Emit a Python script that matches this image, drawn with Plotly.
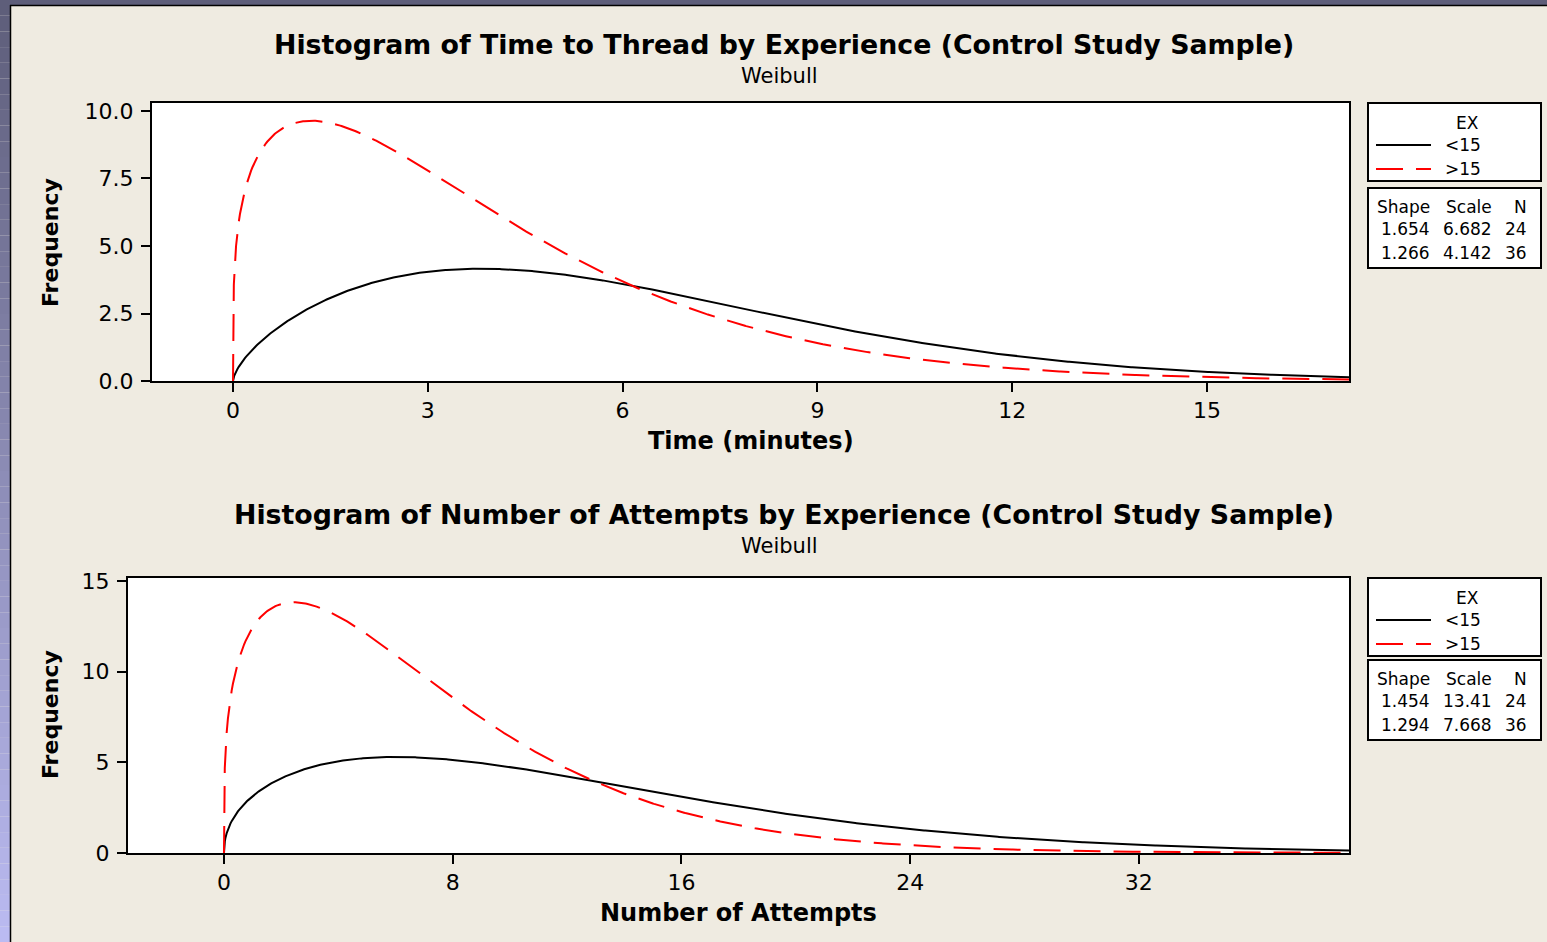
import numpy as np
import plotly.graph_objects as go

# Fitted Weibull parameters per experience group (EX)
groups = ["<15", ">15"]
time_shape = [1.654, 1.266]
time_scale = [6.682, 4.142]
attempt_shape = [1.454, 1.294]
attempt_scale = [13.41, 7.668]
group_n = [24, 36]

# Histogram bin widths used to scale the fitted densities to frequencies
time_bin = 1.5
attempt_bin = 4.0

time_xticks = [0, 3, 6, 9, 12, 15]
time_yticks = [0, 2.5, 5.0, 7.5, 10.0]
attempt_xticks = [0, 8, 16, 24, 32]
attempt_yticks = [0, 5, 10, 15]

W, H = 1547, 942
BG = "#EFEBE1"
FONT = "DejaVu Sans"
line_colors = ["black", "red"]
line_dash = ["solid", "27px,13px"]


def px(x):
    return x / W


def py(y):
    return 1 - y / H


def weibull_freq(x, k, lam, n, bw):
    z = x / lam
    return n * bw * (k / lam) * np.power(z, k - 1) * np.exp(-np.power(z, k))


def note(text, x, y, size, xanchor="center", bold=False, angle=0):
    return dict(text=f"<b>{text}</b>" if bold else text, x=px(x), y=py(y),
                xref="paper", yref="paper", xanchor=xanchor, yanchor="middle",
                showarrow=False, textangle=angle,
                font=dict(family=FONT, size=size, color="black"))


fig = go.Figure()

panels = [
    dict(xa="x", ya="y", box=(152, 1349, 103, 381), xr=(-1.2475, 17.187), yr=(0, 10.296),
         shape=time_shape, scale=time_scale, bw=time_bin,
         xt=time_xticks, yt=time_yticks, yfmt=".1f",
         title="Histogram of Time to Thread by Experience (Control Study Sample)",
         title_y=45, sub_y=76, xlab="Time (minutes)", xlab_y=441, ylab_y=243,
         leg=(103, 181, 188, 268)),
    dict(xa="x2", ya="y2", box=(128, 1349, 578, 853), xr=(-3.357, 39.35), yr=(0, 15.166),
         shape=attempt_shape, scale=attempt_scale, bw=attempt_bin,
         xt=attempt_xticks, yt=attempt_yticks, yfmt="d",
         title="Histogram of Number of Attempts by Experience (Control Study Sample)",
         title_y=514, sub_y=546, xlab="Number of Attempts", xlab_y=913, ylab_y=715,
         leg=(578, 656, 660, 740)),
]

shapes = []
annotations = []

# Window frame: dark top strip and a left strip fading to lavender
shapes.append(dict(type="rect", xref="paper", yref="paper", x0=0, x1=1, y0=py(5), y1=1,
                   fillcolor="#5E5E7A", line_width=0, layer="below"))
nseg = 60
c0 = np.array([0x5E, 0x5E, 0x7A])
c1 = np.array([0xBB, 0xBB, 0xF2])
for i in range(nseg):
    t = i / (nseg - 1)
    c = (c0 + (c1 - c0) * t).astype(int)
    y0 = i * H / nseg
    y1 = (i + 1) * H / nseg
    shapes.append(dict(type="rect", xref="paper", yref="paper", x0=0, x1=px(10),
                       y0=py(y1), y1=py(y0), fillcolor=f"rgb({c[0]},{c[1]},{c[2]})",
                       line_width=0, layer="below"))
shapes.append(dict(type="line", xref="paper", yref="paper", x0=px(10), x1=1, y0=py(5.5), y1=py(5.5),
                   line=dict(color="black", width=1.5)))
shapes.append(dict(type="line", xref="paper", yref="paper", x0=px(10.5), x1=px(10.5), y0=0, y1=py(5),
                   line=dict(color="black", width=1.5)))

layout_axes = {}
for pi, p in enumerate(panels):
    x0, x1, y0, y1 = p["box"]
    xmax = p["xr"][1]
    xs = np.concatenate([np.linspace(0, 0.05, 60)[:-1], np.linspace(0.05, xmax, 900)])
    for gi, g in enumerate(groups):
        ys = weibull_freq(xs, p["shape"][gi], p["scale"][gi], group_n[gi], p["bw"])
        fig.add_trace(go.Scatter(x=xs, y=ys, mode="lines", xaxis=p["xa"], yaxis=p["ya"],
                                 line=dict(color=line_colors[gi], width=2, dash=line_dash[gi]),
                                 name=g, showlegend=False, hoverinfo="skip"))
    ax_common = dict(showline=True, linecolor="black", linewidth=2, mirror=True,
                     ticks="outside", ticklen=9, tickwidth=2, tickcolor="black",
                     showgrid=False, zeroline=False, automargin=False,
                     tickfont=dict(family=FONT, size=22, color="black"))
    xkey = "xaxis" if pi == 0 else "xaxis2"
    ykey = "yaxis" if pi == 0 else "yaxis2"
    layout_axes[xkey] = dict(ax_common, domain=[px(x0), px(x1)], range=list(p["xr"]),
                             tickvals=p["xt"], anchor=p["ya"], ticklabelstandoff=0)
    layout_axes[ykey] = dict(ax_common, domain=[py(y1), py(y0)], range=list(p["yr"]),
                             tickvals=p["yt"], tickformat=p["yfmt"], anchor=p["xa"],
                             ticklabelstandoff=3)

    cx = (x0 + x1) / 2
    annotations.append(note(p["title"], 784, p["title_y"], 26.8, bold=True))
    annotations.append(note("Weibull", 779, p["sub_y"], 21))
    annotations.append(note(p["xlab"], cx, p["xlab_y"], 24, bold=True))
    annotations.append(note("Frequency", 50, p["ylab_y"], 22, bold=True, angle=-90))

    # Legend box and parameter table
    la, lb, ta, tb = p["leg"]
    for (b0, b1) in [(la, lb), (ta, tb)]:
        shapes.append(dict(type="rect", xref="paper", yref="paper", x0=px(1368), x1=px(1541),
                           y0=py(b1), y1=py(b0), line=dict(color="black", width=2),
                           fillcolor="white"))
    annotations.append(note("EX", 1467, la + 20, 17))
    for gi, g in enumerate(groups):
        ly = la + 42 + gi * 24
        shapes.append(dict(type="line", xref="paper", yref="paper", x0=px(1376), x1=px(1431),
                           y0=py(ly), y1=py(ly),
                           line=dict(color=line_colors[gi], width=2, dash=line_dash[gi])))
        annotations.append(note(g.replace("<", "&lt;").replace(">", "&gt;"), 1443, ly, 17,
                                xanchor="left"))
    col_right = [1432, 1494, 1529]
    header = ["Shape", "Scale", "N"]
    for ci, h in enumerate(header):
        annotations.append(note(h, col_right[ci], ta + 19, 17, xanchor="right"))
    for gi in range(len(groups)):
        row = [f"{p['shape'][gi]:.4g}", f"{p['scale'][gi]:.4g}", f"{group_n[gi]}"]
        for ci, v in enumerate(row):
            annotations.append(note(v, col_right[ci], ta + 41 + gi * 24, 17, xanchor="right"))

fig.update_layout(
    width=W, height=H,
    margin=dict(l=0, r=0, t=0, b=0, autoexpand=False),
    paper_bgcolor=BG, plot_bgcolor="white",
    showlegend=False,
    shapes=shapes, annotations=annotations,
    font=dict(family=FONT, color="black"),
    **layout_axes,
)

fig.write_html("out.html", config={"displayModeBar": False})
